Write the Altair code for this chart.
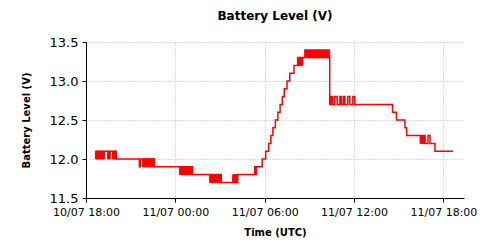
import altair as alt
import pandas as pd

# step line readings (value holds until next reading)
times = [
    "10/07 18:38", "10/07 20:02", "10/07 21:35", "10/07 21:39", "10/07 22:36",
    "11/07 01:09", "11/07 03:05", "11/07 04:11", "11/07 05:20", "11/07 05:50",
    "11/07 06:04", "11/07 06:16", "11/07 06:25", "11/07 06:33", "11/07 06:43",
    "11/07 06:53", "11/07 07:02", "11/07 07:11", "11/07 07:19", "11/07 07:30",
    "11/07 07:41", "11/07 07:58", "11/07 08:13", "11/07 10:22", "11/07 10:28",
    "11/07 10:34", "11/07 10:42", "11/07 10:52", "11/07 11:03", "11/07 11:09",
    "11/07 11:17", "11/07 11:23", "11/07 11:35", "11/07 11:43", "11/07 11:55",
    "11/07 12:03", "11/07 14:35", "11/07 14:51", "11/07 15:25", "11/07 15:32",
    "11/07 16:46", "11/07 16:58", "11/07 17:06", "11/07 17:26", "11/07 18:39",
]
volts = [
    12.1, 12.0, 11.9, 12.0, 11.9,
    11.8, 11.7, 11.8, 11.9, 12.0,
    12.1, 12.2, 12.3, 12.4, 12.5,
    12.6, 12.7, 12.8, 12.9, 13.0,
    13.1, 13.2, 13.3, 12.7, 12.8,
    12.7, 12.8, 12.7, 12.8, 12.7,
    12.8, 12.7, 12.8, 12.7, 12.8,
    12.7, 12.6, 12.5, 12.4, 12.3,
    12.2, 12.3, 12.2, 12.1, 12.1,
]

# periods of rapid flicker between two adjacent readings
band_start = ["10/07 18:38", "10/07 19:27", "10/07 19:47", "10/07 21:48", "11/07 00:17",
              "11/07 02:18", "11/07 03:51", "11/07 05:20", "11/07 08:13", "11/07 08:41",
              "11/07 16:26"]
band_end = ["10/07 19:15", "10/07 19:38", "10/07 20:02", "10/07 22:36", "11/07 01:09",
            "11/07 03:05", "11/07 04:11", "11/07 05:28", "11/07 08:34", "11/07 10:22",
            "11/07 16:46"]
band_lo = [12.0, 12.0, 12.0, 11.9, 11.8, 11.7, 11.7, 11.8, 13.2, 13.3, 12.2]
band_hi = [12.1, 12.1, 12.1, 12.0, 11.9, 11.8, 11.8, 11.9, 13.3, 13.4, 12.3]

y_ticks = [11.5, 12.0, 12.5, 13.0, 13.5]


def iso(s):
    d, hm = s.split(" ")
    day, mon = d.split("/")
    return f"2023-{mon}-{day}T{hm}:00Z"


line_df = pd.DataFrame({"t": [iso(s) for s in times], "v": volts})
band_df = pd.DataFrame({
    "t": [iso(s) for s in band_start],
    "t2": [iso(s) for s in band_end],
    "lo": band_lo,
    "hi": band_hi,
})

x_ticks = [
    alt.DateTime(year=2023, month=7, date=10, hours=18, utc=True),
    alt.DateTime(year=2023, month=7, date=11, hours=0, utc=True),
    alt.DateTime(year=2023, month=7, date=11, hours=6, utc=True),
    alt.DateTime(year=2023, month=7, date=11, hours=12, utc=True),
    alt.DateTime(year=2023, month=7, date=11, hours=18, utc=True),
]
x_domain = [
    alt.DateTime(year=2023, month=7, date=10, hours=18, minutes=0, utc=True),
    alt.DateTime(year=2023, month=7, date=11, hours=19, minutes=23, utc=True),
]

grid_color = "#c0b0cc"

x_scale = alt.Scale(type="utc", domain=x_domain)
y_scale = alt.Scale(domain=[11.5, 13.5], nice=False, zero=False)

x_axis = alt.Axis(
    values=x_ticks, format="%d/%m %H:%M", title="Time (UTC)",
    labelFontSize=11, titleFontSize=10, titleFontWeight="bold",
    grid=True, gridColor=grid_color, gridDash=[1, 2], gridWidth=1,
    tickSize=4, labelPadding=4, titlePadding=10, labelColor="black",
    titleColor="black", labelFlush=False, labelOverlap=False,
)
y_axis = alt.Axis(
    values=y_ticks, format=".1f", title="Battery Level (V)",
    labelFontSize=13, titleFontSize=10, titleFontWeight="bold",
    grid=True, gridColor=grid_color, gridDash=[1, 2], gridWidth=1,
    tickSize=4, labelPadding=4, titlePadding=18, labelColor="black",
    titleColor="black", labelOverlap=False,
)

line = alt.Chart(line_df).mark_line(
    interpolate="step-after", color="#ff0000", strokeWidth=1.5
).encode(
    x=alt.X("t:T", scale=x_scale, axis=x_axis),
    y=alt.Y("v:Q", scale=y_scale, axis=y_axis),
)

bands = alt.Chart(band_df).mark_rect(
    color="#ff0000", stroke="#ff0000", strokeWidth=1
).encode(
    x=alt.X("t:T", scale=x_scale, axis=x_axis),
    x2="t2:T",
    y=alt.Y("lo:Q", scale=y_scale, axis=y_axis),
    y2="hi:Q",
)

chart = (
    alt.layer(line, bands)
    .properties(
        width=378,
        height=156,
        autosize=alt.AutoSizeParams(type="none"),
        padding={"left": 86, "top": 42, "right": 36, "bottom": 52},
        title=alt.TitleParams(
            "Battery Level (V)", fontSize=12, fontWeight="bold", color="black",
            font="DejaVu Sans", offset=13, anchor="middle",
        ),
    )
    .configure(font="DejaVu Sans", background="white")
    .configure_view(stroke=None)
    .configure_axis(domainColor="black", tickColor="black", domainWidth=1,
                    labelFont="DejaVu Sans", titleFont="DejaVu Sans")
)

chart.save("out.html", embed_options={"renderer": "svg", "actions": False})
